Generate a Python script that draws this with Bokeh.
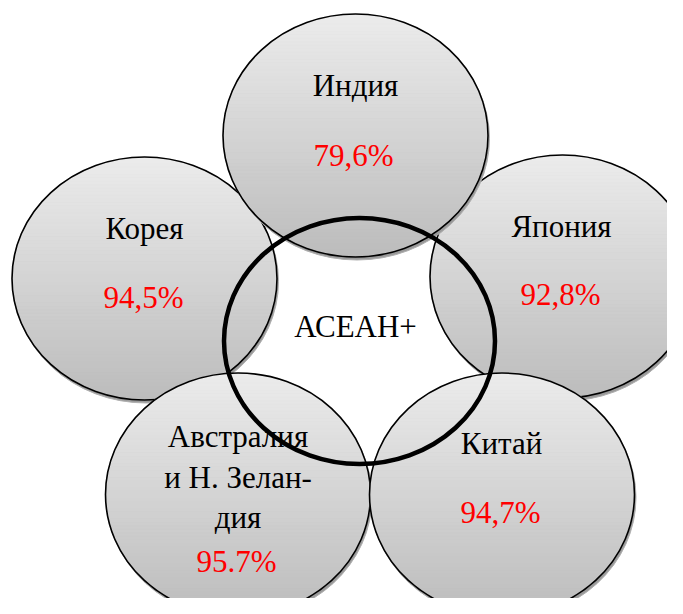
import numpy as np
from bokeh.plotting import figure
from bokeh.models import Range1d
from bokeh.embed import file_html
from bokeh.resources import INLINE
from bokeh.core.properties import value

# ---- data ----
countries = ["Корея", "Япония", "Индия", "Австралия и Н. Зеландия", "Китай"]
label_lines = [["Корея"], ["Япония"], ["Индия"],
               ["Австралия", "и Н. Зелан-", "дия"], ["Китай"]]
shares = ["94,5%", "92,8%", "79,6%", "95.7%", "94,7%"]
center_label = "АСЕАН+"

# ---- layout (reference pixel coordinates; y = visual centre of text) ----
cx = [144, 562, 355, 237.5, 501.5]
cy = [278, 276, 135, 494, 494]
RX, RY = 132.5, 121.5
name_y = [[228], [226], [85], [436, 476.5, 517], [443]]
name_x = [144, 561, 355, 237.5, 501]
share_y = [297, 294, 155, 561, 512]
share_x = [143, 560, 353, 236, 500]
center_xy = (355, 326)
ASEAN_C = (359, 340.5)
ASEAN_W, ASEAN_H = 271, 246

W, H = 667, 598
p = figure(width=W, height=H, output_backend="svg", toolbar_location=None,
           x_range=Range1d(0, W), y_range=Range1d(H, 0),
           min_border=0)
p.axis.visible = False
p.grid.visible = False
p.outline_line_color = None
p.background_fill_color = "white"
p.border_fill_color = "white"

FONT = value("Liberation Serif")
N = 70
top_c, bot_c = 236, 188

for i in range(len(countries)):
    x0, y0 = cx[i], cy[i]
    # shadow
    p.ellipse(x=[x0 + 1.5], y=[y0 + 3], width=2 * RX, height=2 * RY,
              fill_color="#9a9a9a", line_color="#b0b0b0", line_width=1)
    # gradient bands
    xs, ys, cols = [], [], []
    edges = np.linspace(-RY, RY, N + 1)
    for k in range(N):
        a, b = edges[k], edges[k + 1]
        wa = RX * np.sqrt(max(0.0, 1 - (a / RY) ** 2))
        wb = RX * np.sqrt(max(0.0, 1 - (b / RY) ** 2))
        xs.append([x0 - wa, x0 + wa, x0 + wb, x0 - wb])
        ys.append([y0 + a, y0 + a, y0 + b, y0 + b])
        t = (k + 0.5) / N
        g = int(round(top_c + (bot_c - top_c) * t))
        cols.append("#%02x%02x%02x" % (g, g, g))
    p.patches(xs=xs, ys=ys, fill_color=cols, line_color=cols, line_width=1)
    # outline
    p.ellipse(x=[x0], y=[y0], width=2 * RX, height=2 * RY,
              fill_color=None, line_color="black", line_width=1.6)

# central ASEAN+ ring
p.ellipse(x=[ASEAN_C[0]], y=[ASEAN_C[1]], width=ASEAN_W, height=ASEAN_H,
          fill_color=None, line_color="black", line_width=4.5)

# texts
tx, ty, tt = [], [], []
for i in range(len(countries)):
    for line, yy in zip(label_lines[i], name_y[i]):
        tx.append(name_x[i]); ty.append(yy); tt.append(line)
tx.append(center_xy[0]); ty.append(center_xy[1]); tt.append(center_label)
p.text(x=tx, y=ty, text=tt, text_font=FONT, text_font_size="31px",
       text_color="black", text_align="center", text_baseline="alphabetic")
p.text(x=share_x, y=share_y, text=shares, text_font=FONT,
       text_font_size="31px", text_color="#ff0000", text_align="center",
       text_baseline="alphabetic")

open("out.html", "w").write(file_html(p, INLINE))
